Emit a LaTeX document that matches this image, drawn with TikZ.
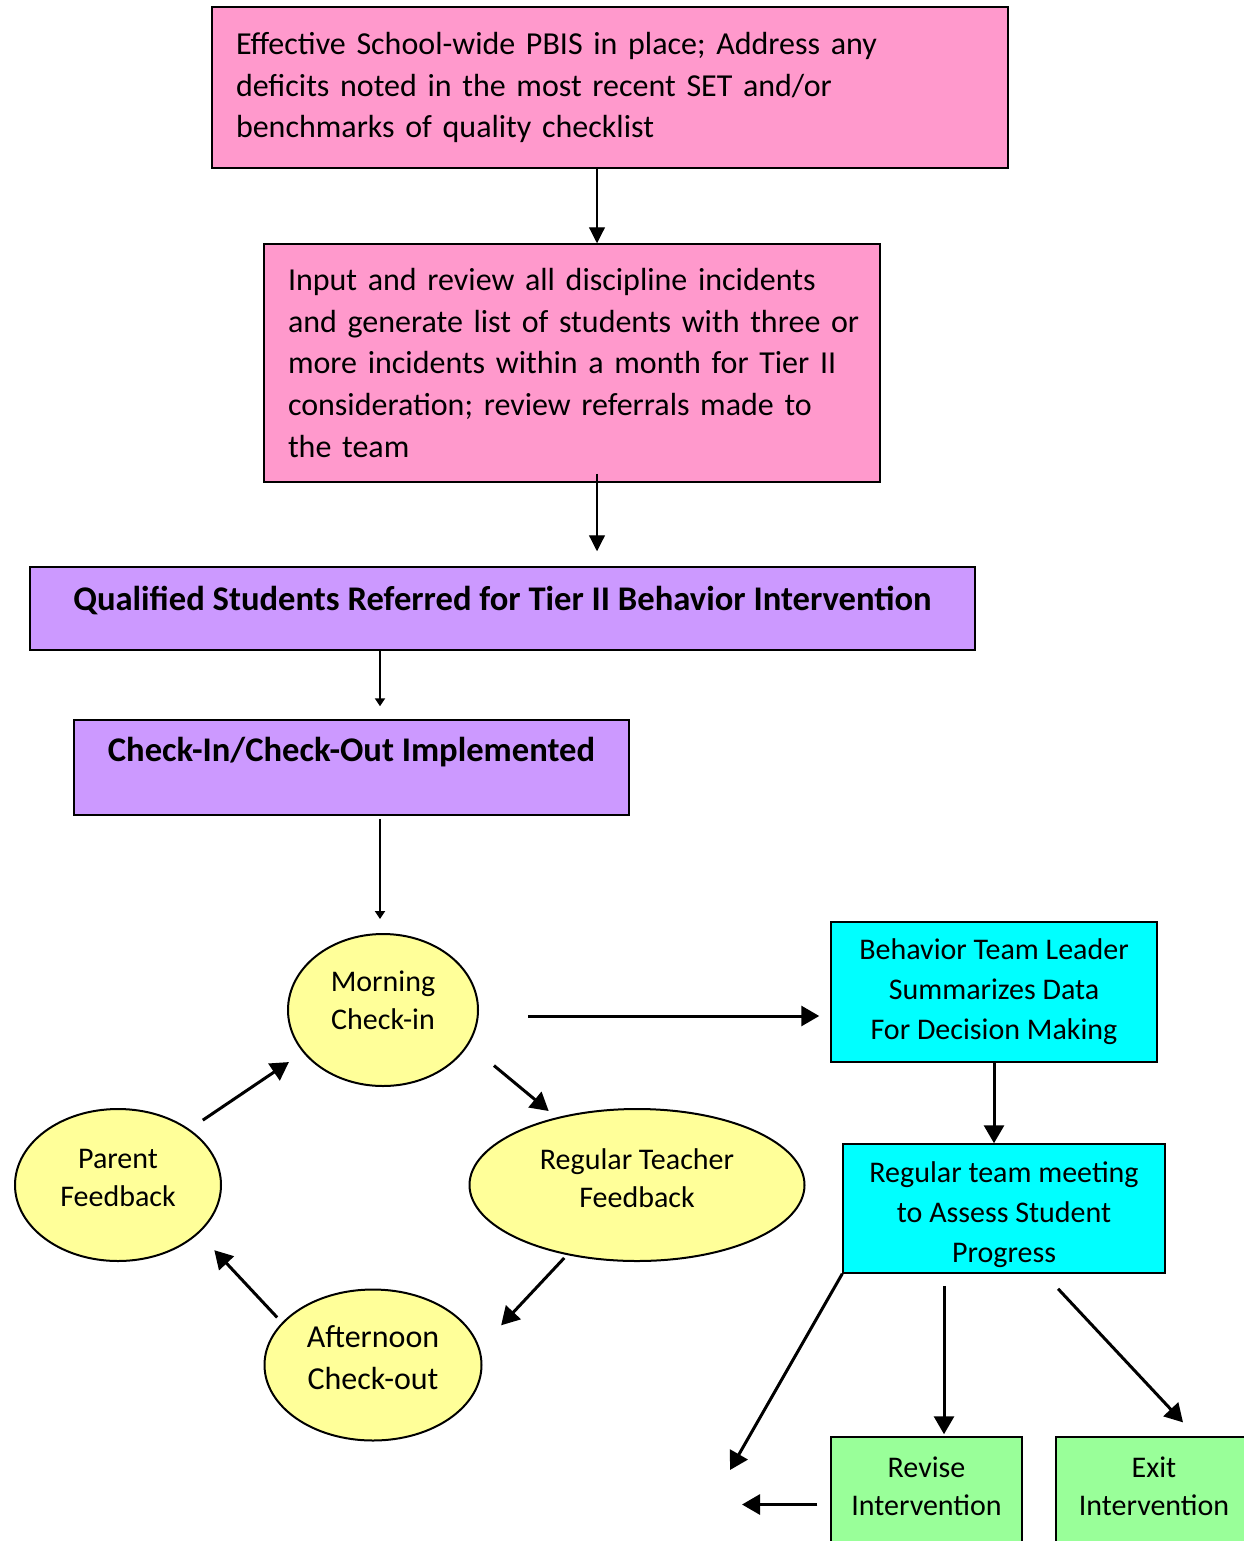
\documentclass[tikz,border=0pt]{standalone}
\usepackage{fontspec}
\setmainfont{Carlito}
\usetikzlibrary{arrows.meta,shapes.geometric}

\definecolor{pinkfill}{HTML}{FF99CC}
\definecolor{purplefill}{HTML}{CC99FF}
\definecolor{cyanfill}{HTML}{00FFFF}
\definecolor{greenfill}{HTML}{99FF99}
\definecolor{yellowfill}{HTML}{FFFF99}

\begin{document}
\begin{tikzpicture}[x=0.5pt,y=-0.5pt,
    box/.style={draw,line width=0.75pt,inner sep=0pt},
    pinkbox/.style={box,fill=pinkfill,align=left,inner xsep=12pt,
                    font=\fontsize{16}{20.8}\selectfont},
    purplebox/.style={box,fill=purplefill,font=\fontsize{17.3}{21}\selectfont\bfseries},
    cyanbox/.style={box,fill=cyanfill,align=center,font=\fontsize{15}{20}\selectfont},
    greenbox/.style={box,fill=greenfill,align=center,font=\fontsize{15}{19}\selectfont},
    bubble/.style={ellipse,draw,line width=1pt,fill=yellowfill,inner sep=0pt,
                   align=center,text depth=7pt,font=\fontsize{15}{19}\selectfont},
    arr/.style={-{Triangle[length=8pt,width=8pt]},line width=0.6pt},
    arrmid/.style={-{Triangle[length=4pt,width=5pt]},line width=1.3pt},
    arrbig/.style={-{Triangle[length=9pt,width=10pt]},line width=1.5pt}]

  \useasboundingbox (0,0) rectangle (1243,1541);

  % top of the flow
  \node[pinkbox,text width=374pt,minimum height=80.5pt] (pbis) at (610,87.5)
    {\mbox{Effective School-wide PBIS in place; Address any}\\
     \mbox{deficits noted in the most recent SET and/or}\\
     \mbox{benchmarks of quality checklist}};
  \node[pinkbox,text width=284pt,minimum height=119pt] (review) at (572,363)
    {\mbox{Input and review all discipline incidents}\\
     \mbox{and generate list of students with three or}\\
     \mbox{more incidents within a month for Tier II}\\
     \mbox{consideration; review referrals made to}\\
     \mbox{the team}};
  \node[purplebox,minimum width=472.5pt,minimum height=41.5pt,text depth=10pt] (refer) at (502.5,608.5)
    {Qualified Students Referred for Tier II Behavior Intervention};
  \node[purplebox,minimum width=277.5pt,minimum height=47.5pt,text depth=18pt] (cico) at (351.5,767.5)
    {Check-In/Check-Out Implemented};

  % daily cycle
  \node[bubble,minimum width=95pt,minimum height=76pt,text depth=10pt] (morning) at (383,1010) {Morning\\Check-in};
  \node[bubble,minimum width=167.5pt,minimum height=76pt] (teacher)   at (637,1185)  {Regular Teacher\\Feedback};
  \node[bubble,minimum width=103pt,minimum height=76pt]   (parent)    at (118,1185)  {Parent\\Feedback};
  \node[bubble,minimum width=108.5pt,minimum height=75.5pt,font=\fontsize{16}{21}\selectfont]
                                                          (afternoon) at (373,1365)  {Afternoon\\Check-out};

  % decisions
  \node[cyanbox,minimum width=163pt,minimum height=70pt]   (leader)  at (994,992)
    {Behavior Team Leader\\Summarizes Data\\For Decision Making};
  \node[cyanbox,minimum width=161pt,minimum height=64.5pt] (meeting) at (1004,1208.5)
    {\rule{0pt}{17pt}Regular team meeting\\to Assess Student\\Progress};
  \node[greenbox,minimum width=95.5pt,minimum height=61.5pt,text depth=12.5pt] (revise) at (926.5,1498.5)
    {Revise\\Intervention};
  \node[greenbox,minimum width=98pt,minimum height=61.5pt,text depth=12.5pt]   (exit)   at (1154,1498.5)
    {Exit\\Intervention};

  \coordinate (backdiag) at (730,1470);
  \coordinate (backleft) at (742,1495);

  \draw[arr] ([xshift=-6.5pt]pbis.south) -- ([xshift=-6.5pt]pbis.south |- review.north);
  \draw[arr,shorten <=-4.5pt,shorten >=7.5pt] ([xshift=12.5pt]review.south) -- ([xshift=12.5pt]review.south |- refer.north);
  \draw[arrmid,shorten >=6.5pt] ([xshift=-1.5pt]refer.south -| morning.north) -- ([xshift=-1.5pt]cico.north -| morning.north);
  \draw[arrmid,shorten <=1.5pt,shorten >=7pt] ([xshift=-1.5pt]cico.south -| morning.north) -- ([xshift=-1.5pt]morning.north);

  \draw[arrbig,shorten <=16.4pt,shorten >=5pt]   (morning.-22)   -- (teacher.140);
  \draw[arrbig,shorten <=2pt,shorten >=15.6pt]   (teacher.-135)  -- (afternoon.9.5);
  \draw[arrbig,shorten <=3.5pt,shorten >=11.4pt] (afternoon.155) -- (parent.-31.5);
  \draw[arrbig,shorten <=8pt,shorten >=8.5pt]    (parent.38)     -- (morning.208);

  \draw[arrbig,shorten <=24.5pt,shorten >=5.5pt] ([yshift=-3pt]morning.east) -- ([yshift=-3pt]morning.east -| leader.west);
  \draw[arrbig] (leader.south) -- (leader.south |- meeting.north);
  \draw[arrbig] (meeting.south west) -- (backdiag);
  \draw[arrbig,shorten <=6pt,shorten >=1pt] ([xshift=-30pt]meeting.south) -- ([xshift=-30pt]meeting.south |- revise.north);
  \draw[arrbig,shorten <=10.3pt,shorten >=9.5pt] ([xshift=20pt]meeting.south) -- ([xshift=21pt]exit.north);
  \draw[arrbig,shorten <=6.5pt] ([yshift=-3pt]revise.west) -- ([yshift=-3pt]revise.west -| backleft);
\end{tikzpicture}
\end{document}
